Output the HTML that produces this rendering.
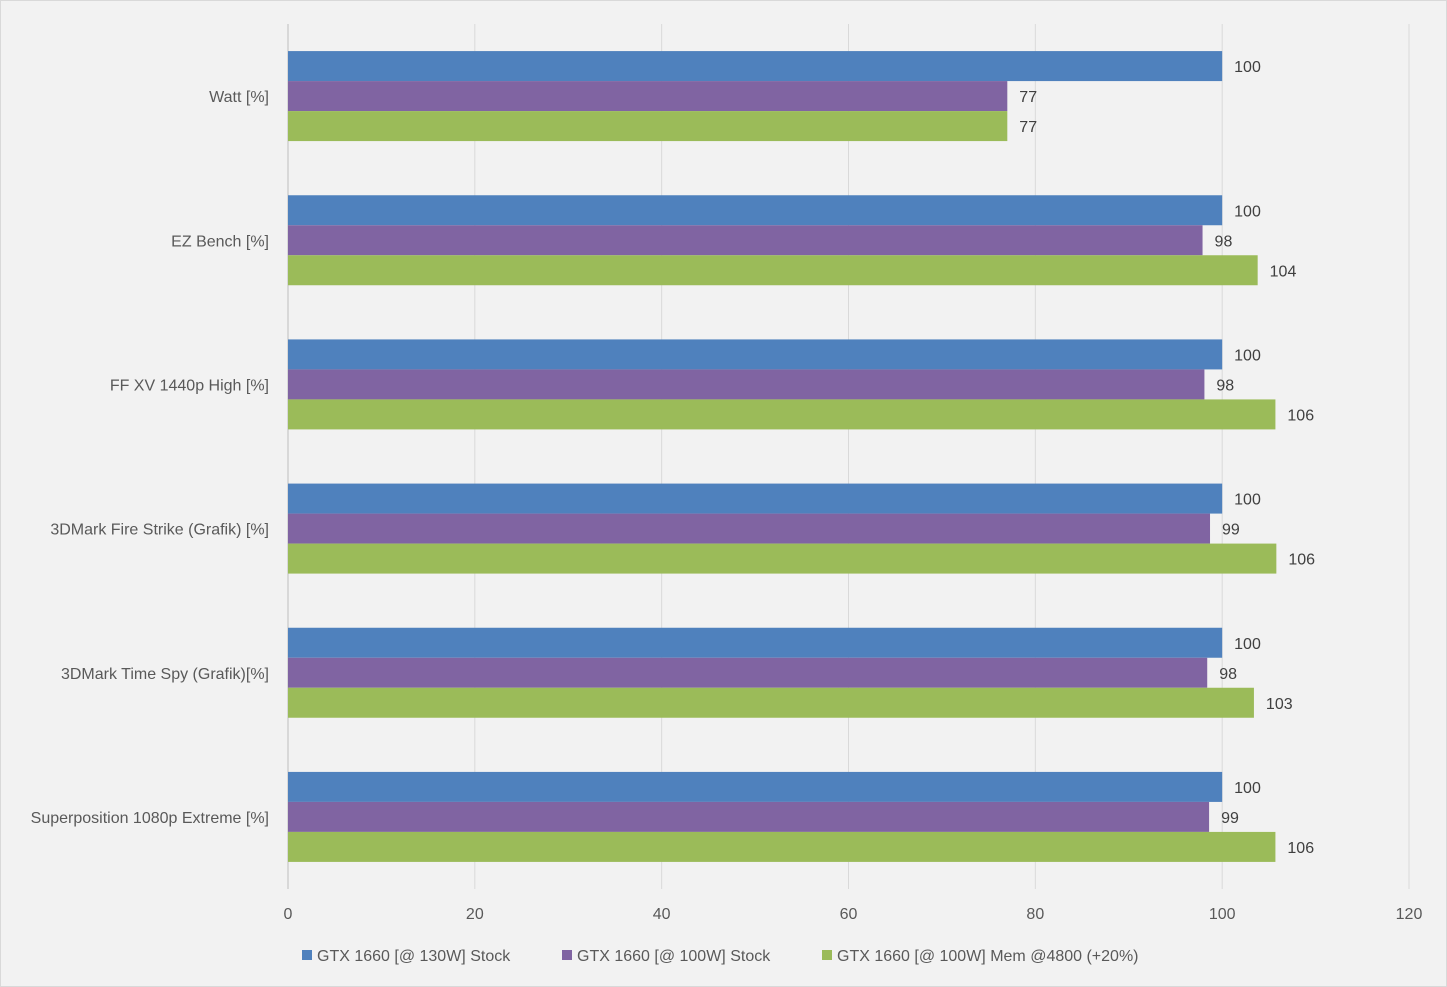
<!DOCTYPE html>
<html><head><meta charset="utf-8"><style>
html,body{margin:0;padding:0;background:#f2f2f2;}
svg{display:block;font-family:"Liberation Sans",sans-serif;}
</style></head><body>
<svg id="chart" width="1447" height="987">
<rect x="0.5" y="0.5" width="1446" height="986" fill="#f2f2f2" stroke="#d9d9d9"/>
<g id="grid"></g><g id="bars"></g><g id="labels"></g><g id="legend"></g>
</svg>
<script>
const categories=["Watt [%]","EZ Bench [%]","FF XV 1440p High [%]","3DMark Fire Strike (Grafik) [%]","3DMark Time Spy (Grafik)[%]","Superposition 1080p Extreme [%]"];
const seriesNames=["GTX 1660 [@ 130W] Stock","GTX 1660 [@ 100W] Stock","GTX 1660 [@ 100W] Mem @4800 (+20%)"];
const series130=[100,100,100,100,100,100];
const series100=[77,97.9,98.1,98.7,98.4,98.6];
const seriesMem=[77,103.8,105.7,105.8,103.4,105.7];
const xTicks=[0,20,40,60,80,100,120];
const colors=["#4f81bd","#8064a2","#9bbb59"];
const NS="http://www.w3.org/2000/svg";
const x0=288,x1=1409,yTop=24,yBottom=889,xmax=120;
const X=v=>x0+v/xmax*(x1-x0);
const band=(yBottom-yTop)/categories.length, barH=30;
function mk(tag,attrs,parent){const e=document.createElementNS(NS,tag);for(const k in attrs)e.setAttribute(k,attrs[k]);document.getElementById(parent).appendChild(e);return e;}
xTicks.forEach(t=>{
 const l=mk("line",{x1:X(t),x2:X(t),y1:yTop,y2:yBottom,stroke:"#d9d9d9","stroke-width":1},"grid");
 
 
 const tx=mk("text",{x:X(t),y:919,"text-anchor":"middle","font-size":16,fill:"#595959"},"labels");
 tx.textContent=t;
 
 
});
const ax=mk("line",{x1:x0,x2:x0,y1:yTop,y2:yBottom,stroke:"#bfbfbf","stroke-width":1},"grid");


const all=[series130,series100,seriesMem];
categories.forEach((c,i)=>{
 const cy=yTop+band*(i+0.5);
 const ct=mk("text",{x:269,y:cy+6,"text-anchor":"end","font-size":16,fill:"#595959"},"labels");
 ct.textContent=c;
 
 
 all.forEach((s,j)=>{
  const y=cy-45+j*barH;
  const r=mk("rect",{x:x0,y:y,width:X(s[i])-x0,height:barH,fill:colors[j]},"bars");
  
  
  const v=mk("text",{x:X(s[i])+12,y:y+21,"font-size":16,fill:"#404040"},"labels");
  v.textContent=Math.round(s[i]);
  
  
 });
});
const lx=[302,562,822];
seriesNames.forEach((n,j)=>{
 const r=mk("rect",{x:lx[j],y:950,width:10,height:10,fill:colors[j]},"legend");
 
 
 const t=mk("text",{x:lx[j]+15,y:961,"font-size":16,fill:"#595959"},"legend");
 t.textContent=n;
 
 
});
</script>
</body></html>
